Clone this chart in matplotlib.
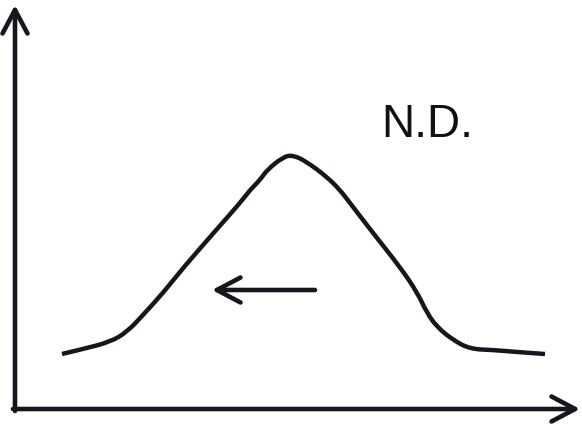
import matplotlib
matplotlib.use('Agg')
import matplotlib.pyplot as plt
from matplotlib.path import Path
from matplotlib.patches import PathPatch

# hand-drawn style curve (pixel coords, y down)
curve_x = [62, 83, 110, 127, 143, 163, 183, 217, 240, 250, 260, 267, 283, 293,
           307, 327, 340, 350, 373, 400, 417, 427, 437, 453, 470, 493, 517, 545]
curve_y = [354, 349, 342, 332, 315, 293, 268, 229, 203, 190, 180, 170, 157, 155,
           162, 177, 190, 203, 233, 267, 292, 313, 327, 340, 349, 350, 352, 354]

# shift arrow (tail -> head)
shift_tail = (315, 290)
shift_head = (212, 290)

label = 'N.D.'
label_pos = (427, 137)

ink = '#16161f'

fig = plt.figure(figsize=(5.82, 4.24), dpi=100)
ax = fig.add_axes([0, 0, 1, 1])
ax.set_xlim(0, 582)
ax.set_ylim(424, 0)
ax.axis('off')

arrow = dict(arrowstyle='->,head_length=0.85,head_width=0.45', color=ink,
             lw=3.3, shrinkA=0, shrinkB=0, mutation_scale=20,
             capstyle='round', joinstyle='round')

# axes drawn as arrows
ax.annotate('', xy=(15, 5), xytext=(15, 411), arrowprops=arrow)
ax.annotate('', xy=(580, 409), xytext=(13, 409), arrowprops=arrow)

# smooth pen stroke: quadratic segments through the midpoints of the traced points
pts = list(zip(curve_x, curve_y))
verts = [pts[0]]
codes = [Path.MOVETO]
for i in range(1, len(pts) - 1):
    mid = ((pts[i][0] + pts[i + 1][0]) / 2, (pts[i][1] + pts[i + 1][1]) / 2)
    verts += [pts[i], mid]
    codes += [Path.CURVE3, Path.CURVE3]
verts.append(pts[-1])
codes.append(Path.LINETO)
ax.add_patch(PathPatch(Path(verts, codes), facecolor='none', edgecolor=ink,
                       lw=3.2, capstyle='butt', joinstyle='round'))

ax.annotate('', xy=shift_head, xytext=shift_tail, arrowprops=arrow)

ax.text(label_pos[0], label_pos[1], label, fontsize=33,
        family=['Liberation Sans', 'Arial', 'DejaVu Sans'],
        ha='center', va='baseline', color='#111111')

plt.savefig('out.png', dpi=100)
